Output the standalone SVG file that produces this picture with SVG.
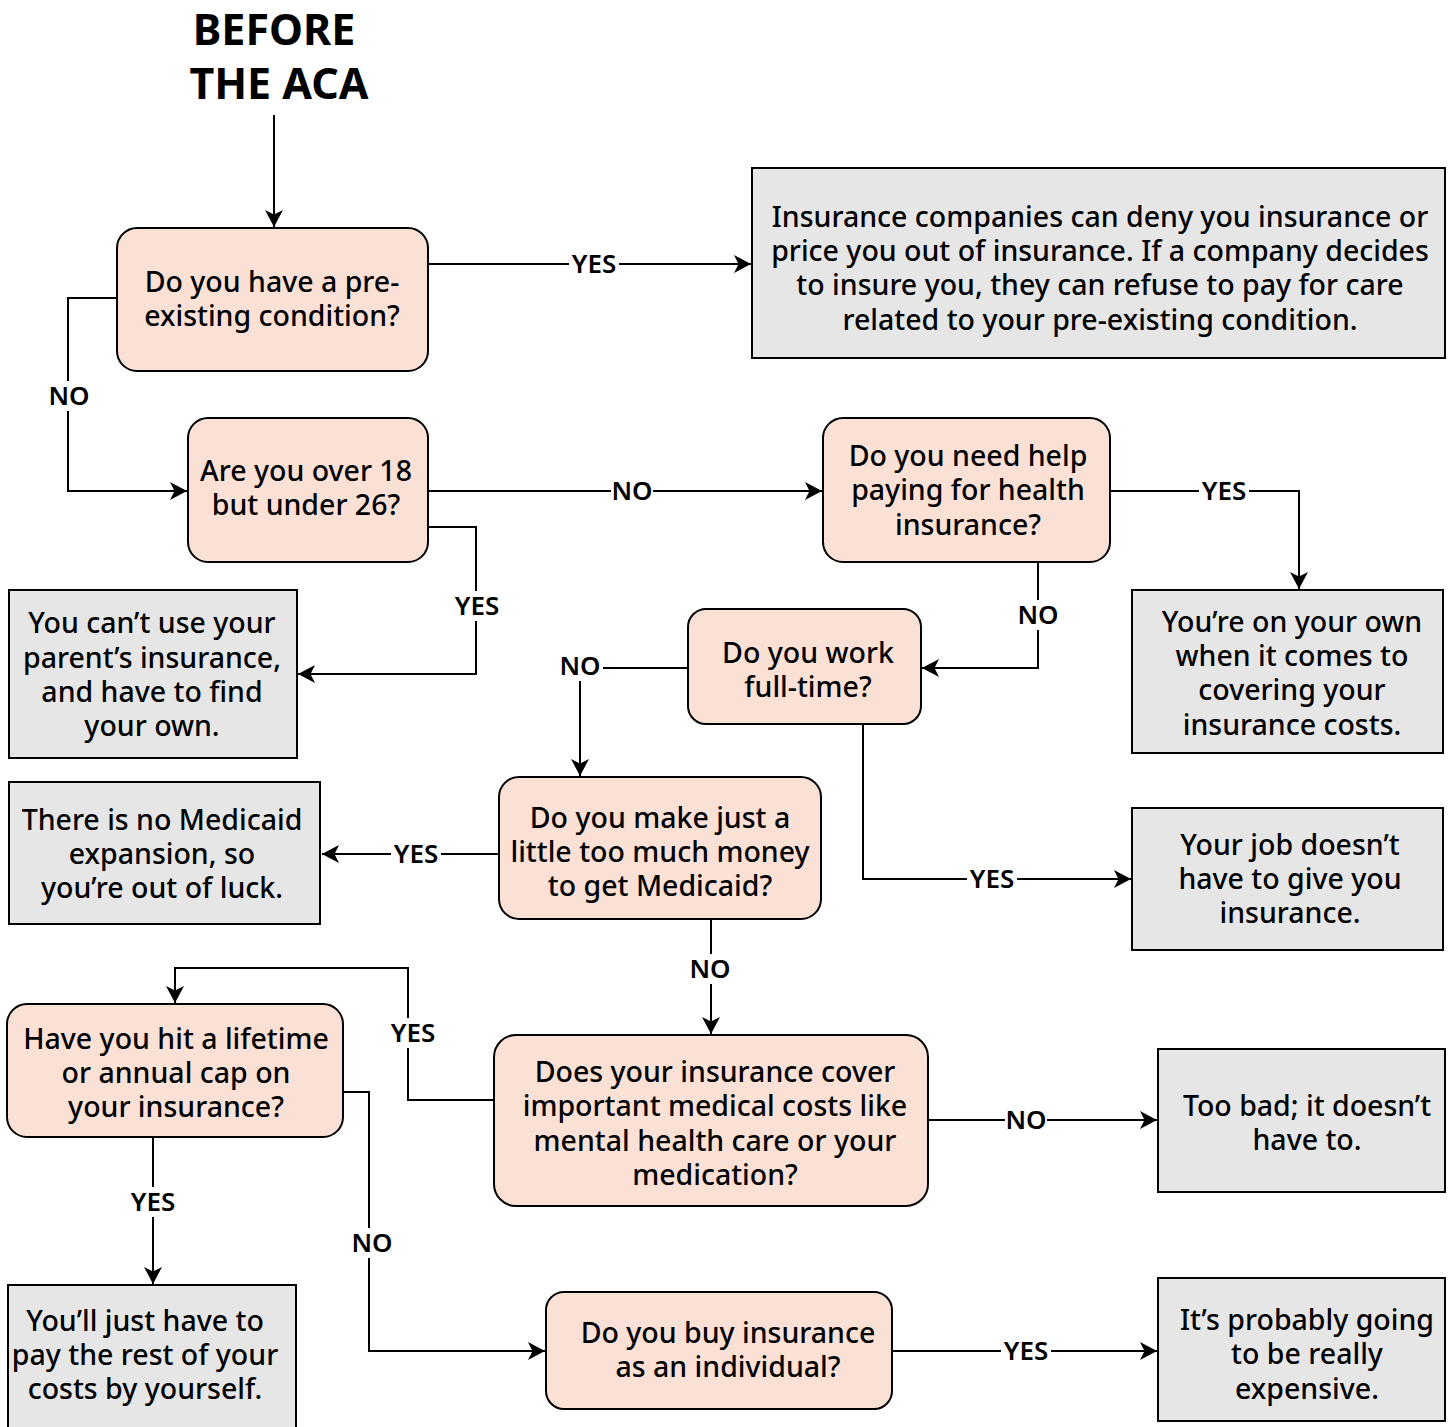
<svg xmlns="http://www.w3.org/2000/svg" width="1452" height="1427" viewBox="0 0 1452 1427">
<style>
.q{fill:#fbe0d5;stroke:#000;stroke-width:2}
.a{fill:#e6e6e6;stroke:#000;stroke-width:2}
.t{font-family:"Noto Sans","Open Sans",sans-serif;font-size:28.5px;font-weight:500;fill:#000;text-anchor:middle}
.c path{fill:none;stroke:#000;stroke-width:2}
.l{font-family:"Noto Sans","Open Sans",sans-serif;font-size:26px;font-weight:600;fill:#000;text-anchor:middle}
.lb{fill:#fff}
.title{font-family:"Noto Sans","Open Sans",sans-serif;font-size:43px;font-weight:bold;fill:#000;text-anchor:middle}
</style>
<defs>
<marker id="ar" markerUnits="userSpaceOnUse" markerWidth="20" markerHeight="20" refX="17" refY="10" orient="auto">
<path d="M0,1 L17,10 L0,19 L4.5,10 z" fill="#000"/>
</marker>
</defs>
<rect width="1452" height="1427" fill="#fff"/>
<g id="title">
<text class="title" x="274" y="45">BEFORE</text>
<text class="title" x="279" y="99">THE ACA</text>
</g>
<g class="c" id="connectors">
<path d="M274,115 V227" marker-end="url(#ar)"/>
<path d="M428,264 H751" marker-end="url(#ar)"/>
<path d="M117,298 H68 V491 H187" marker-end="url(#ar)"/>
<path d="M428,491 H822" marker-end="url(#ar)"/>
<path d="M428,527 H476 V674 H298" marker-end="url(#ar)"/>
<path d="M1110,491 H1299 V589" marker-end="url(#ar)"/>
<path d="M1038,562 V668 H922" marker-end="url(#ar)"/>
<path d="M688,668 H580 V776" marker-end="url(#ar)"/>
<path d="M863,724 V879 H1131" marker-end="url(#ar)"/>
<path d="M499,854 H322" marker-end="url(#ar)"/>
<path d="M711,919 V1034" marker-end="url(#ar)"/>
<path d="M928,1120 H1157" marker-end="url(#ar)"/>
<path d="M494,1100 H408 V968 H175 V1003" marker-end="url(#ar)"/>
<path d="M153,1137 V1284" marker-end="url(#ar)"/>
<path d="M343,1092 H369 V1351 H545" marker-end="url(#ar)"/>
<path d="M892,1351 H1157" marker-end="url(#ar)"/>
</g>
<g id="labels">
<rect class="lb" x="569" y="249" width="50" height="30"/><text class="l" x="594" y="273">YES</text>
<rect class="lb" x="49" y="381" width="40" height="30"/><text class="l" x="69" y="405">NO</text>
<rect class="lb" x="611" y="476" width="42" height="30"/><text class="l" x="632" y="500">NO</text>
<rect class="lb" x="452" y="591" width="50" height="30"/><text class="l" x="477" y="615">YES</text>
<rect class="lb" x="1199" y="476" width="50" height="30"/><text class="l" x="1224" y="500">YES</text>
<rect class="lb" x="1017" y="600" width="42" height="30"/><text class="l" x="1038" y="624">NO</text>
<rect class="lb" x="559" y="651" width="44" height="30"/><text class="l" x="580" y="675">NO</text>
<rect class="lb" x="967" y="864" width="50" height="30"/><text class="l" x="992" y="888">YES</text>
<rect class="lb" x="391" y="839" width="50" height="30"/><text class="l" x="416" y="863">YES</text>
<rect class="lb" x="689" y="954" width="42" height="30"/><text class="l" x="710" y="978">NO</text>
<rect class="lb" x="1005" y="1105" width="42" height="30"/><text class="l" x="1026" y="1129">NO</text>
<rect class="lb" x="388" y="1018" width="50" height="30"/><text class="l" x="413" y="1042">YES</text>
<rect class="lb" x="128" y="1187" width="50" height="30"/><text class="l" x="153" y="1211">YES</text>
<rect class="lb" x="351" y="1228" width="42" height="30"/><text class="l" x="372" y="1252">NO</text>
<rect class="lb" x="1001" y="1336" width="50" height="30"/><text class="l" x="1026" y="1360">YES</text>
</g>
<g id="n1"><rect class="q" x="117" y="228" width="311" height="143" rx="20"/>
<text class="t" x="272" y="292">Do you have a pre-</text><text class="t" x="272" y="326">existing condition?</text></g>
<g id="n2"><rect class="a" x="752" y="168" width="693" height="190"/>
<text class="t" x="1100" y="227">Insurance companies can deny you insurance or</text>
<text class="t" x="1100" y="261">price you out of insurance. If a company decides</text>
<text class="t" x="1100" y="295">to insure you, they can refuse to pay for care</text>
<text class="t" x="1100" y="330">related to your pre-existing condition.</text></g>
<g id="n3"><rect class="q" x="188" y="418" width="240" height="144" rx="20"/>
<text class="t" x="306" y="481">Are you over 18</text><text class="t" x="306" y="515">but under 26?</text></g>
<g id="n4"><rect class="q" x="823" y="418" width="287" height="144" rx="20"/>
<text class="t" x="968" y="466">Do you need help</text><text class="t" x="968" y="500">paying for health</text><text class="t" x="968" y="535">insurance?</text></g>
<g id="n5"><rect class="a" x="9" y="590" width="288" height="168"/>
<text class="t" x="152" y="633">You can’t use your</text><text class="t" x="152" y="668">parent’s insurance,</text><text class="t" x="152" y="702">and have to find</text><text class="t" x="152" y="736">your own.</text></g>
<g id="n6"><rect class="a" x="1132" y="590" width="311" height="163"/>
<text class="t" x="1292" y="632">You’re on your own</text><text class="t" x="1292" y="666">when it comes to</text><text class="t" x="1292" y="700">covering your</text><text class="t" x="1292" y="735">insurance costs.</text></g>
<g id="n7"><rect class="q" x="688" y="609" width="233" height="115" rx="18"/>
<text class="t" x="808" y="663">Do you work</text><text class="t" x="808" y="697">full-time?</text></g>
<g id="n8"><rect class="q" x="499" y="777" width="322" height="142" rx="20"/>
<text class="t" x="660" y="828">Do you make just a</text><text class="t" x="660" y="862">little too much money</text><text class="t" x="660" y="896">to get Medicaid?</text></g>
<g id="n9"><rect class="a" x="1132" y="808" width="311" height="142"/>
<text class="t" x="1290" y="855">Your job doesn’t</text><text class="t" x="1290" y="889">have to give you</text><text class="t" x="1290" y="923">insurance.</text></g>
<g id="n10"><rect class="a" x="9" y="782" width="311" height="142"/>
<text class="t" x="162" y="830">There is no Medicaid</text><text class="t" x="162" y="864">expansion, so</text><text class="t" x="162" y="898">you’re out of luck.</text></g>
<g id="n11"><rect class="q" x="494" y="1035" width="434" height="171" rx="22"/>
<text class="t" x="715" y="1082">Does your insurance cover</text><text class="t" x="715" y="1116">important medical costs like</text><text class="t" x="715" y="1151">mental health care or your</text><text class="t" x="715" y="1185">medication?</text></g>
<g id="n12"><rect class="a" x="1158" y="1049" width="287" height="143"/>
<text class="t" x="1307" y="1116">Too bad; it doesn’t</text><text class="t" x="1307" y="1150">have to.</text></g>
<g id="n13"><rect class="q" x="7" y="1004" width="336" height="133" rx="20"/>
<text class="t" x="176" y="1049">Have you hit a lifetime</text><text class="t" x="176" y="1083">or annual cap on</text><text class="t" x="176" y="1117">your insurance?</text></g>
<g id="n14"><rect class="a" x="8" y="1285" width="288" height="150"/>
<text class="t" x="145" y="1331">You’ll just have to</text><text class="t" x="145" y="1365">pay the rest of your</text><text class="t" x="145" y="1399">costs by yourself.</text></g>
<g id="n15"><rect class="q" x="546" y="1292" width="346" height="117" rx="18"/>
<text class="t" x="728" y="1343">Do you buy insurance</text><text class="t" x="728" y="1377">as an individual?</text></g>
<g id="n16"><rect class="a" x="1158" y="1278" width="287" height="143"/>
<text class="t" x="1307" y="1330">It’s probably going</text><text class="t" x="1307" y="1364">to be really</text><text class="t" x="1307" y="1399">expensive.</text></g>
</svg>
